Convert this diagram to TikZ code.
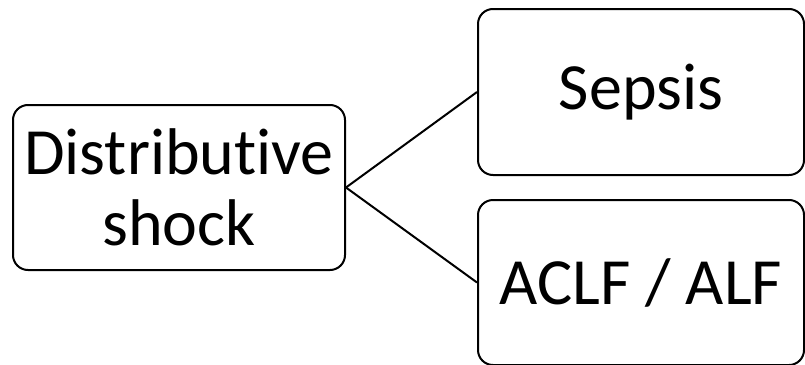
\documentclass[tikz,border=0pt]{standalone}
\usepackage{fontspec}
\setmainfont[Ligatures=NoCommon]{Carlito}
\usepackage{tikz}
\tikzstyle{shockbox} = [rectangle, rounded corners=15pt, text centered, align=center, draw=black, line width=2pt, inner sep=0pt, font=\fontsize{66}{71}\selectfont]
\tikzstyle{link} = [line width=2pt]

\begin{document}
\begin{tikzpicture}[x=1pt, y=-1pt]
	\useasboundingbox (0,0) rectangle (805,364);
	\node (dist) at (179, 187.5) [shockbox, minimum width=332pt, minimum height=165pt] {Distributive\\shock};
	\node (sepsis) at (641, 92) [shockbox, minimum width=326pt, minimum height=166pt] {Sepsis};
	\node (aclf) at (641, 282.5) [shockbox, minimum width=326pt, minimum height=165pt] {ACLF / ALF};
	\draw[link] (dist.east) -- (sepsis.west);
	\draw[link] (dist.east) -- (aclf.west);
\end{tikzpicture}
\end{document}
